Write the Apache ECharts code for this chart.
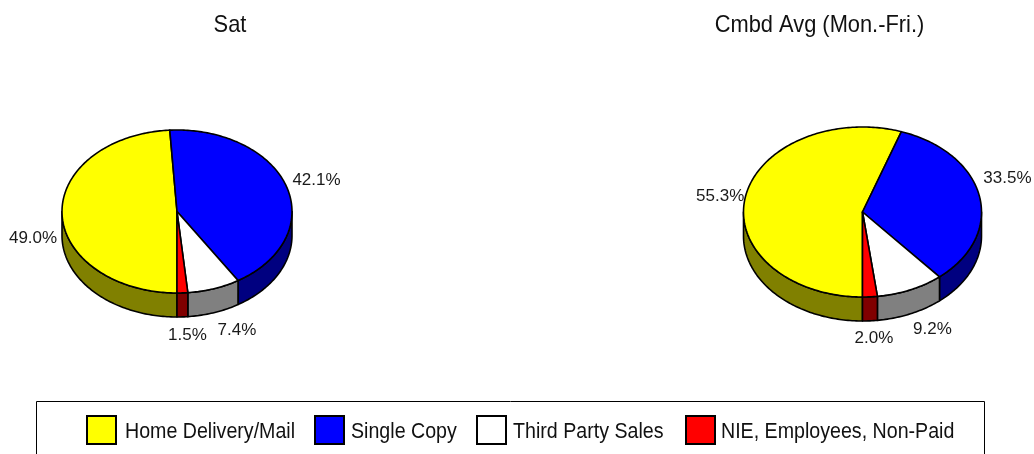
<!DOCTYPE html>
<html>
<head>
<meta charset="utf-8">
<style>html,body{margin:0;padding:0;background:#fff;overflow:hidden}#chart{width:1034px;height:454px}</style>
<script src="https://cdn.jsdelivr.net/npm/echarts@6/dist/echarts.min.js"></script>
</head>
<body>
<div id="chart"></div>
<script>
// Circulation mix, Saturday against the weekday average.
const categories = ['Home Delivery/Mail', 'Single Copy', 'Third Party Sales', 'NIE, Employees, Non-Paid'];
const pieTitles = ['Sat', 'Cmbd Avg (Mon.-Fri.)'];
const satValues = [49.0, 42.1, 7.4, 1.5];
const weekdayValues = [55.3, 33.5, 9.2, 2.0];

const topColors = ['#ffff00', '#0000ff', '#ffffff', '#ff0000'];
const sideColors = ['#808000', '#000080', '#808080', '#800000'];

const baseFont = '"Liberation Sans", Arial, sans-serif';

// Tilted disc geometry for each pie.
const discs = [
  { cx: 177, cy: 211.5, rx: 115, ry: 81.5, depth: 24 },
  { cx: 862.5, cy: 212, rx: 119, ry: 85, depth: 24 }
];
// Label nudges from the rim point at each slice's middle angle.
const labelNudges = [
  [[-29, 24], [30, -6], [23, 42], [5, 42]],
  [[-25, -2], [28, -18], [22, 40], [4, 41]]
];
// Horizontal slots for the key entries, and where the pie headings are centred.
const keySwatchX = [87, 315, 477, 686];
const keyTextX = [125, 351, 513, 721];
const titleCentreX = [230, 819.5];

const valueTable = [satValues, weekdayValues];
const rad = d => d * Math.PI / 180;

function rim(disc, deg, drop) {
  return [
    disc.cx + disc.rx * Math.sin(rad(deg)),
    disc.cy - disc.ry * Math.cos(rad(deg)) + (drop || 0)
  ];
}
function arc(disc, from, to, drop) {
  const pts = [];
  const steps = Math.max(1, Math.ceil(Math.abs(to - from)));
  for (let i = 0; i <= steps; i++) pts.push(rim(disc, from + (to - from) * i / steps, drop));
  return pts;
}

function renderSlice(catIndex) {
  return function (params, api) {
    const pie = params.dataIndex;
    const disc = discs[pie];
    const value = api.value(0);
    let before = 0;
    for (let k = 0; k < catIndex; k++) before += valueTable[pie][k];
    // Slices run clockwise from six o'clock.
    const from = 180 + before * 3.6;
    const to = from + value * 3.6;
    const children = [];
    const edge = { stroke: '#000', lineWidth: 1.6, lineJoin: 'round' };

    // The wall shows only on the near half of the rim.
    [[90, 270], [450, 630]].forEach(function (span) {
      const a = Math.max(from, span[0]);
      const b = Math.min(to, span[1]);
      if (b > a) {
        children.push({
          type: 'polygon',
          shape: { points: arc(disc, a, b, 0).concat(arc(disc, b, a, disc.depth)) },
          style: Object.assign({ fill: sideColors[catIndex] }, edge)
        });
      }
    });
    children.push({
      type: 'polygon',
      shape: { points: [[disc.cx, disc.cy]].concat(arc(disc, from, to, 0)) },
      style: Object.assign({ fill: topColors[catIndex] }, edge)
    });

    const anchor = rim(disc, (from + to) / 2, 0);
    const nudge = labelNudges[pie][catIndex];
    children.push({
      type: 'text',
      style: {
        x: anchor[0] + nudge[0],
        y: anchor[1] + nudge[1],
        text: value.toFixed(1) + '%',
        fill: '#1a1a1a',
        font: '17px ' + baseFont,
        align: 'center',
        verticalAlign: 'middle'
      }
    });
    return { type: 'group', children: children };
  };
}

// Condensed lettering: the installed sans is squeezed horizontally.
function squeezedText(text, x, y, size, squeeze, align) {
  return {
    type: 'text',
    x: x,
    y: y,
    scaleX: squeeze,
    z: 10,
    style: { text: text, fill: '#111', font: size + 'px ' + baseFont, align: align, verticalAlign: 'middle' }
  };
}

const headings = pieTitles.map(function (t, i) {
  return squeezedText(t, titleCentreX[i], 25, 24, 0.91, 'center');
});
const keyFrame = {
  type: 'rect',
  z: 5,
  shape: { x: 36.5, y: 401.5, width: 948, height: 70 },
  style: { fill: '#fff', stroke: '#000', lineWidth: 1 }
};
const keyEntries = [];
categories.forEach(function (name, i) {
  keyEntries.push({
    type: 'rect',
    z: 10,
    shape: { x: keySwatchX[i], y: 416, width: 29, height: 28 },
    style: { fill: topColors[i], stroke: '#000', lineWidth: 2 }
  });
  keyEntries.push(squeezedText(name, keyTextX[i], 432, 22.5, 0.872, 'left'));
});

const chart = echarts.init(document.getElementById('chart'), null, { renderer: 'canvas' });
chart.setOption({
  animation: false,
  backgroundColor: '#fff',
  graphic: { elements: headings.concat([keyFrame], keyEntries) },
  series: categories.map(function (name, i) {
    return {
      type: 'custom',
      name: name,
      coordinateSystem: 'none',
      renderItem: renderSlice(i),
      itemStyle: { color: topColors[i] },
      silent: true,
      data: [[satValues[i]], [weekdayValues[i]]]
    };
  })
});
</script>
</body>
</html>
